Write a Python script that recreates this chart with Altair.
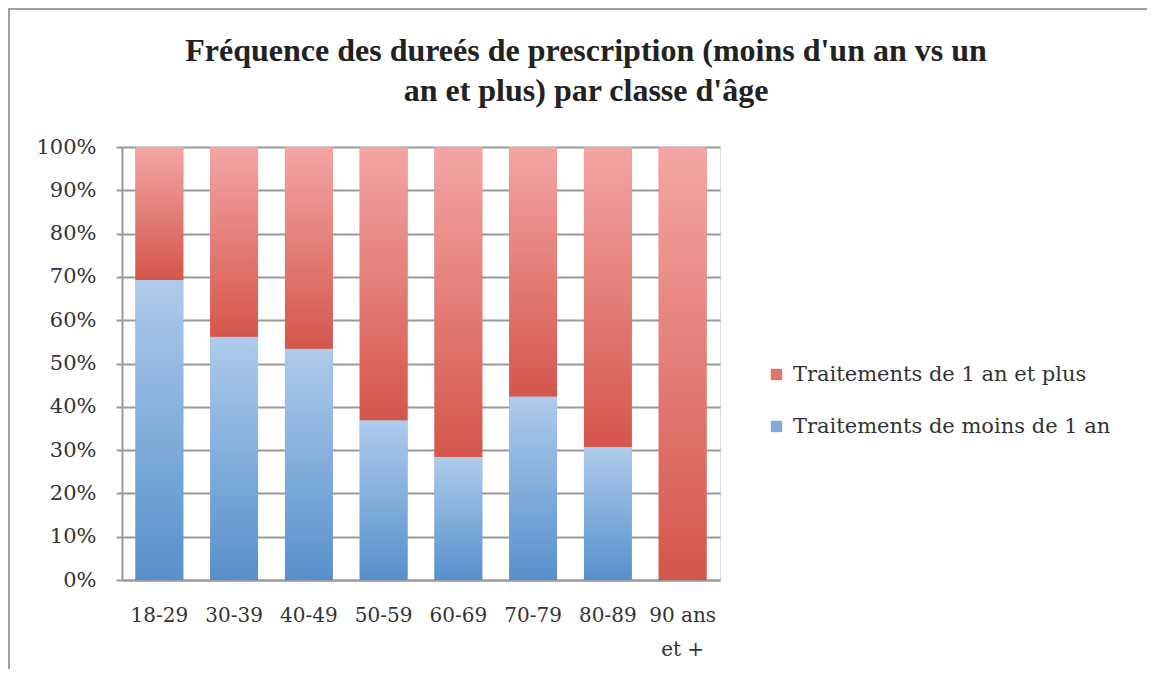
import altair as alt
import pandas as pd

categories = ["18-29", "30-39", "40-49", "50-59", "60-69", "70-79", "80-89", "90 ans et +"]
moins_1_an = [69.3, 56.2, 53.4, 36.9, 28.4, 42.4, 30.7, 0.0]
un_an_plus = [30.7, 43.8, 46.6, 63.1, 71.6, 57.6, 69.3, 100.0]
series_names = ["Traitements de 1 an et plus", "Traitements de moins de 1 an"]
series_colors = ["#E0736C", "#80A9DA"]
y_ticks = [0, 0.1, 0.2, 0.3, 0.4, 0.5, 0.6, 0.7, 0.8, 0.9, 1.0]

rows = []
for c, m, p in zip(categories, moins_1_an, un_an_plus):
    rows.append({"cat": c, "serie": series_names[1], "start": 0.0, "end": m / 100})
    rows.append({"cat": c, "serie": series_names[0], "start": m / 100, "end": (m + p) / 100})
df = pd.DataFrame(rows)

LABEL_FONT = "DejaVu Serif"

x_enc = alt.X(
    "cat:N",
    sort=categories,
    title=None,
    scale=alt.Scale(paddingInner=0.36, paddingOuter=0.18),
    axis=alt.Axis(
        labelAngle=0,
        labelFont=LABEL_FONT,
        labelFontSize=20,
        labelColor="#333333",
        labelPadding=25,
        labelLineHeight=34,
        labelExpr="datum.label == '90 ans et +' ? ['90 ans', 'et +'] : datum.label",
        ticks=False,
        domainColor="#9a9a9a",
        domainWidth=2,
        grid=False,
    ),
)
y_enc = alt.Y(
    "start:Q",
    title=None,
    scale=alt.Scale(domain=[0, 1], nice=False),
    axis=alt.Axis(
        values=y_ticks,
        format=".0%",
        labelFont=LABEL_FONT,
        labelFontSize=21,
        labelColor="#333333",
        labelPadding=20,
        tickSize=6,
        tickColor="#9a9a9a",
        tickWidth=2,
        domainColor="#9a9a9a",
        domainWidth=2,
        gridColor="#9a9a9a",
        gridWidth=2,
    ),
)

base = alt.Chart(df).mark_bar().encode(
    x=x_enc,
    y=y_enc,
    y2="end:Q",
    color=alt.Color(
        "serie:N",
        scale=alt.Scale(domain=series_names, range=series_colors),
        legend=alt.Legend(
            title=None,
            orient="none",
            legendX=644,
            legendY=217,
            labelFont=LABEL_FONT,
            labelFontSize=21,
            labelColor="#333333",
            labelLimit=500,
            symbolType="square",
            symbolSize=130,
            symbolStrokeWidth=0,
            rowPadding=30,
            labelOffset=6,
            padding=0,
        ),
    ),
)

blue_grad = alt.Gradient(
    gradient="linear",
    stops=[alt.GradientStop(color="#AECBEB", offset=0), alt.GradientStop(color="#5790CC", offset=1)],
    x1=0, x2=0, y1=0, y2=1,
)
red_grad = alt.Gradient(
    gradient="linear",
    stops=[alt.GradientStop(color="#F4A5A3", offset=0), alt.GradientStop(color="#D4564C", offset=1)],
    x1=0, x2=0, y1=0, y2=1,
)

blue = alt.Chart(df).transform_filter(
    alt.datum.serie == series_names[1]
).mark_bar(fill=blue_grad).encode(x=x_enc, y=y_enc, y2="end:Q")

red = alt.Chart(df).transform_filter(
    alt.datum.serie == series_names[0]
).mark_bar(fill=red_grad).encode(x=x_enc, y=y_enc, y2="end:Q")

frame_left = alt.Chart(df).mark_rule(color="#a0a0a0", strokeWidth=2).encode(
    x=alt.value(-113), y=alt.value(-138), y2=alt.value(540)
)
frame_top = alt.Chart(df).mark_rule(color="#a0a0a0", strokeWidth=2).encode(
    x=alt.value(-114), x2=alt.value(1030), y=alt.value(-138)
)

chart = alt.layer(base, blue, red, frame_left, frame_top).properties(
    width=598,
    height=433,
    autosize=alt.AutoSizeParams(type="none"),
    padding={"left": 114, "top": 139, "right": 427, "bottom": 89},
    title=alt.TitleParams(
        text=["Fréquence des dureés de prescription (moins d'un an vs un", "an et plus) par classe d'âge"],
        font="Liberation Serif",
        fontSize=32,
        fontWeight="bold",
        lineHeight=40,
        color="#222222",
        anchor="middle",
        frame="group",
        dx=165,
        dy=100,
        offset=0,
    ),
).configure_view(stroke=None).configure(background="white")

chart.save("out.html", embed_options={"renderer": "svg", "actions": False})
